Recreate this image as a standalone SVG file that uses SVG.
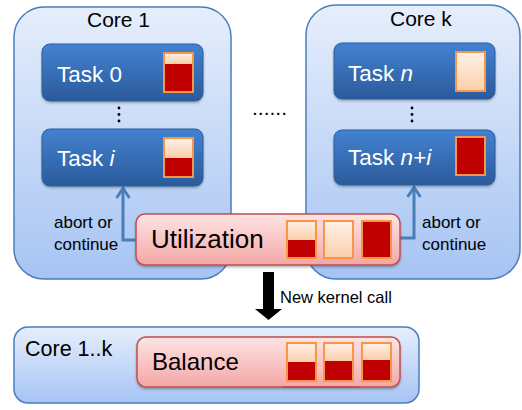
<svg xmlns="http://www.w3.org/2000/svg" width="522" height="410" viewBox="0 0 522 410">
  <defs>
    <linearGradient id="gCore" x1="0" y1="0" x2="0" y2="1">
      <stop offset="0" stop-color="#e6eefc"/>
      <stop offset="1" stop-color="#a6c4f3"/>
    </linearGradient>
    <linearGradient id="gTask" x1="0" y1="0" x2="0" y2="1">
      <stop offset="0" stop-color="#4382d1"/>
      <stop offset="1" stop-color="#2b5a9b"/>
    </linearGradient>
    <linearGradient id="gPink" x1="0" y1="0" x2="0" y2="1">
      <stop offset="0" stop-color="#fde4e4"/>
      <stop offset="1" stop-color="#f4a7a6"/>
    </linearGradient>
    <linearGradient id="gLight" x1="0" y1="0" x2="0" y2="1">
      <stop offset="0" stop-color="#fff1e7"/>
      <stop offset="1" stop-color="#fbcfaa"/>
    </linearGradient>
    <filter id="shadow" x="-10%" y="-10%" width="120%" height="130%">
      <feDropShadow dx="0" dy="1.5" stdDeviation="1.2" flood-color="#000" flood-opacity="0.3"/>
    </filter>
  </defs>
  <style>
    .core { fill: url(#gCore); stroke: #4a7ebb; stroke-width: 1.5; }
    .task { fill: url(#gTask); stroke: #2d5f9c; stroke-width: 1; filter: url(#shadow); }
    .pink { fill: url(#gPink); stroke: #c0504d; stroke-width: 1.5; filter: url(#shadow); }
    .light { fill: url(#gLight); }
    .red { fill: #c00000; }
    .frame { fill: none; stroke: #f79646; stroke-width: 2; }
    .label { font-family: "Liberation Sans", Arial, sans-serif; fill: #000; }
    .tlabel { font-family: "Liberation Sans", Arial, sans-serif; fill: #fff; font-size: 22.5px; }
    .conn { fill: none; stroke: #4a7ebb; stroke-width: 3; stroke-linejoin: miter; }
    .dot { fill: #000; }
  </style>

  <!-- core containers -->
  <g id="core1">
    <rect class="core" x="14" y="7" width="217" height="272" rx="30"/>
    <text class="label" x="87" y="27" font-size="21">Core 1</text>
  </g>
  <g id="corek">
    <rect class="core" x="306" y="5" width="214" height="274" rx="30"/>
    <text class="label" x="390" y="26" font-size="21">Core k</text>
  </g>
  <g id="cores-all">
    <rect class="core" x="14" y="327" width="405" height="76" rx="14"/>
    <text class="label" x="25" y="356" font-size="21.5">Core 1..k</text>
  </g>

  <!-- connectors -->
  <g id="connectors">
    <path class="conn" d="M136 240 H123 V189"/>
    <path class="conn" d="M116.5 198 L123 188.5 L129.5 198"/>
    <path class="conn" d="M400 238 H414 V188"/>
    <path class="conn" d="M407.5 197 L414 187.5 L420.5 197"/>
    <polygon fill="#000" points="263,272 274,272 274,309 282,309 268.5,320 255,309 263,309"/>
    <text class="label" x="54" y="228" font-size="17">abort or</text>
    <text class="label" x="54" y="250" font-size="17">continue</text>
    <text class="label" x="422" y="228" font-size="17">abort or</text>
    <text class="label" x="422" y="250" font-size="17">continue</text>
    <text class="label" x="280" y="303" font-size="16.5">New kernel call</text>
  </g>

  <!-- tasks on core 1 -->
  <g id="task0">
    <rect class="task" x="42" y="44" width="161" height="57" rx="8"/>
    <text class="tlabel" x="57" y="82">Task 0</text>
    <rect class="red" x="164" y="53" width="29" height="39"/>
    <rect class="light" x="164" y="53" width="29" height="11"/>
    <rect class="frame" x="164" y="53" width="29" height="39"/>
  </g>
  <g id="vdots1">
    <circle class="dot" cx="119" cy="108" r="1.4"/>
    <circle class="dot" cx="119" cy="114.5" r="1.4"/>
    <circle class="dot" cx="119" cy="121" r="1.4"/>
  </g>
  <g id="taski">
    <rect class="task" x="42" y="129" width="161" height="57" rx="8"/>
    <text class="tlabel" x="57" y="166">Task <tspan font-style="italic">i</tspan></text>
    <rect class="red" x="164" y="138" width="29" height="39"/>
    <rect class="light" x="164" y="138" width="29" height="20"/>
    <rect class="frame" x="164" y="138" width="29" height="39"/>
  </g>

  <!-- tasks on core k -->
  <g id="taskn">
    <rect class="task" x="334" y="43" width="161" height="56" rx="8"/>
    <text class="tlabel" x="348" y="81">Task <tspan font-style="italic">n</tspan></text>
    <rect class="light" x="456" y="52" width="29" height="39"/>
    <rect class="frame" x="456" y="52" width="29" height="39"/>
  </g>
  <g id="vdotsk">
    <circle class="dot" cx="412" cy="108" r="1.4"/>
    <circle class="dot" cx="412" cy="114.5" r="1.4"/>
    <circle class="dot" cx="412" cy="121" r="1.4"/>
  </g>
  <g id="taskni">
    <rect class="task" x="334" y="130" width="161" height="55" rx="8"/>
    <text class="tlabel" x="348" y="165">Task <tspan font-style="italic">n+i</tspan></text>
    <rect class="red" x="456" y="137" width="29" height="38"/>
    <rect class="frame" x="456" y="137" width="29" height="38"/>
  </g>

  <g id="ellipsis">
    <text class="label" x="252" y="115" font-size="21">......</text>
  </g>

  <!-- utilization -->
  <g id="utilization">
    <rect class="pink" x="136" y="214" width="264" height="51" rx="9"/>
    <text class="label" x="151" y="248" font-size="26">Utilization</text>
    <rect class="red" x="287" y="221" width="29" height="37"/>
    <rect class="light" x="287" y="221" width="29" height="19"/>
    <rect class="frame" x="287" y="221" width="29" height="37"/>
    <rect class="light" x="324" y="221" width="29" height="37"/>
    <rect class="frame" x="324" y="221" width="29" height="37"/>
    <rect class="red" x="362" y="221" width="29" height="37"/>
    <rect class="frame" x="362" y="221" width="29" height="37"/>
  </g>

  <!-- balance -->
  <g id="balance">
    <rect class="pink" x="137" y="337" width="263" height="50" rx="9"/>
    <line x1="282" y1="387" x2="359" y2="387" stroke="#c0504d" stroke-width="2"/>
    <text class="label" x="152" y="370" font-size="24">Balance</text>
    <rect class="red" x="287" y="343" width="29" height="38"/>
    <rect class="light" x="287" y="343" width="29" height="19"/>
    <rect class="frame" x="287" y="343" width="29" height="38"/>
    <rect class="red" x="324" y="343" width="29" height="38"/>
    <rect class="light" x="324" y="343" width="29" height="18"/>
    <rect class="frame" x="324" y="343" width="29" height="38"/>
    <rect class="red" x="362" y="343" width="29" height="38"/>
    <rect class="light" x="362" y="343" width="29" height="17"/>
    <rect class="frame" x="362" y="343" width="29" height="38"/>
  </g>
</svg>
